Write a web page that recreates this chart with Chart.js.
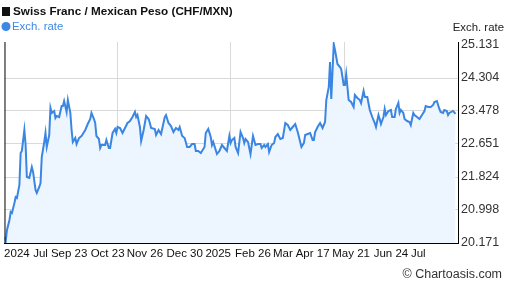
<!DOCTYPE html>
<html>
<head>
<meta charset="utf-8">
<script src="https://cdn.jsdelivr.net/npm/chart.js@4.4.1/dist/chart.umd.min.js"></script>
<style>
  html, body { margin: 0; padding: 0; background: #fff; }
  #wrap { width: 507px; height: 288px; }
</style>
</head>
<body>
<div id="wrap"><canvas id="chart" width="507" height="288"></canvas></div>
<script>
const chartTitle = "Swiss Franc / Mexican Peso (CHF/MXN)";
const seriesName = "Exch. rate";
const credit = "© Chartoasis.com";

// days since start of the window (late Jul 2024)
const days = [
  0, 1, 2, 4, 5, 6, 8, 9, 10, 12,
  13, 14, 16, 17, 18, 20, 22, 23, 25, 26,
  28, 29, 30, 32, 33, 34, 36, 37, 38, 40,
  41, 42, 44, 46, 47, 48, 50, 51, 53, 54,
  55, 57, 58, 60, 62, 65, 67, 69, 70, 72,
  73, 74, 76, 77, 78, 81, 82, 84, 85, 87,
  89, 90, 91, 93, 95, 97, 99, 101, 103, 105,
  106, 107, 109, 110, 112, 114, 116, 117, 118, 121,
  122, 124, 126, 129, 130, 132, 134, 136, 138, 140,
  141, 143, 145, 147, 149, 151, 153, 154, 156, 158,
  161, 162, 164, 166, 167, 168, 171, 173, 175, 177,
  179, 181, 182, 183, 185, 186, 188, 190, 192, 193,
  194, 196, 198, 200, 202, 204, 206, 207, 209, 210,
  212, 213, 215, 217, 218, 220, 222, 224, 226, 228,
  230, 232, 234, 236, 237, 239, 241, 242, 244, 246,
  248, 249, 250, 252, 254, 256, 258, 259, 261, 262,
  263, 265, 266, 268, 270, 271, 273, 274, 275, 277,
  279, 281, 282, 284, 286, 287, 289, 290, 292, 294,
  296, 298, 299, 301, 302, 303, 305, 306, 307, 309,
  311, 312, 314, 315, 317, 318, 319, 321, 322, 324,
  326, 327, 329, 330, 332, 334, 336, 338, 339, 341,
  343, 345, 346, 348, 350, 351, 353, 354, 356, 357,
  358, 361, 363
];

const rates = [
  20.321, 20.221, 20.497, 20.747, 20.948, 20.923, 21.173, 21.323, 21.298, 21.624,
  22.426, 22.476, 23.002, 22.626, 21.824, 21.799, 22.075, 21.950, 21.499, 21.424,
  21.574, 21.674, 22.325, 22.701, 22.927, 22.576, 22.876, 23.553, 23.428, 23.478,
  23.302, 23.352, 23.327, 23.603, 23.603, 23.728, 23.453, 23.753, 23.428, 23.002,
  22.701, 22.801, 22.651, 22.801, 22.851, 23.002, 23.152, 23.277, 23.428, 23.277,
  23.177, 22.851, 22.776, 22.551, 22.626, 22.626, 22.751, 22.551, 22.551, 22.927,
  23.027, 22.927, 23.077, 23.052, 22.927, 23.052, 23.177, 23.227, 23.327, 23.453,
  23.327, 23.377, 23.077, 22.726, 23.002, 23.352, 23.277, 23.177, 23.052, 23.027,
  22.876, 23.002, 22.901, 23.327, 23.377, 23.177, 23.102, 22.952, 23.052, 23.002,
  23.077, 22.851, 22.801, 22.576, 22.576, 22.651, 22.651, 22.476, 22.476, 22.426,
  22.576, 22.927, 23.027, 22.826, 22.626, 22.701, 22.400, 22.476, 22.626, 22.551,
  22.476, 22.851, 22.676, 22.751, 22.801, 22.576, 22.426, 22.952, 22.801, 22.676,
  22.776, 22.701, 22.400, 22.851, 22.626, 22.651, 22.651, 22.551, 22.626, 22.576,
  22.651, 22.451, 22.626, 22.676, 22.826, 22.901, 22.776, 22.801, 23.177, 23.127,
  23.002, 23.077, 23.152, 22.952, 22.826, 22.576, 22.676, 22.876, 22.901, 22.927,
  22.751, 22.751, 22.952, 23.077, 23.177, 23.052, 23.202, 23.753, 24.079, 24.705,
  23.778, 25.156, 25.006, 24.655, 24.580, 24.530, 24.129, 24.129, 24.404, 23.753,
  23.703, 23.578, 23.878, 23.803, 23.753, 23.678, 23.979, 23.828, 23.828, 23.503,
  23.327, 23.177, 23.077, 23.377, 23.277, 23.152, 23.327, 23.528, 23.377, 23.478,
  23.503, 23.327, 23.327, 23.528, 23.678, 23.428, 23.503, 23.428, 23.277, 23.227,
  23.202, 23.127, 23.428, 23.377, 23.327, 23.277, 23.377, 23.478, 23.603, 23.578,
  23.578, 23.628, 23.703, 23.728, 23.528, 23.453, 23.428, 23.503, 23.478, 23.377,
  23.428, 23.478, 23.403
];

const yTicks = [20.171, 20.998, 21.824, 22.651, 23.478, 24.304, 25.131];
const xTickDays = [10, 29, 52, 83, 113, 145, 172, 200, 224, 248, 279, 311, 333];
const xTickLabels = ["2024", "Jul", "Sep 23", "Oct 23", "Nov 26", "Dec 30", "2025",
  "Feb 26", "Mar", "Apr 17", "May 21", "Jun 24", "Jul"];
const quarterDays = [91, 182, 274];

const font = "'Liberation Sans', Arial, sans-serif";

// header, legend, left frame line and credit
const decor = {
  id: "decor",
  afterDraw(chart) {
    const ctx = chart.ctx;
    const area = chart.chartArea;
    ctx.save();
    ctx.strokeStyle = "#000";
    ctx.lineWidth = 1;
    ctx.beginPath();
    ctx.moveTo(area.left + 0.5, area.top);
    ctx.lineTo(area.left + 0.5, area.bottom);
    ctx.stroke();

    ctx.textBaseline = "middle";
    ctx.fillStyle = "#111";
    ctx.fillRect(2, 7, 8, 9);
    ctx.font = "bold 11.7px " + font;
    ctx.textAlign = "left";
    ctx.fillText(chartTitle, 13, 11.5);

    ctx.fillStyle = "#3d88e3";
    ctx.beginPath();
    ctx.arc(6, 26.5, 4.5, 0, Math.PI * 2);
    ctx.fill();
    ctx.font = "11.4px " + font;
    ctx.fillText(seriesName, 12, 26.5);

    ctx.fillStyle = "#222";
    ctx.textAlign = "right";
    ctx.fillText(seriesName, 504, 27.5);
    ctx.fillStyle = "#333";
    ctx.font = "12.5px " + font;
    ctx.fillText(credit, 502, 275);
    ctx.restore();
  }
};

new Chart(document.getElementById("chart"), {
  type: "line",
  data: {
    datasets: [{
      label: seriesName,
      data: days.map((d, i) => ({ x: d, y: rates[i] })),
      borderColor: "#3a86e2",
      backgroundColor: "#edf5fe",
      borderWidth: 2,
      fill: "start",
      pointRadius: 0,
      tension: 0
    }]
  },
  options: {
    responsive: false,
    animation: false,
    devicePixelRatio: 1,
    layout: { padding: { top: 42, left: 2, right: 0, bottom: 0 } },
    plugins: { legend: { display: false }, title: { display: false }, tooltip: { enabled: false } },
    scales: {
      x: {
        type: "linear",
        min: 0,
        max: 365,
        afterBuildTicks: (s) => { s.ticks = xTickDays.map(v => ({ value: v })); },
        afterFit: (s) => { s.height = 45; },
        grid: { display: false, drawTicks: false },
        border: { color: "#000", width: 1 },
        ticks: {
          autoSkip: false,
          maxRotation: 0,
          minRotation: 0,
          padding: 4,
          color: "#111",
          font: { family: font, size: 11.5 },
          callback: (v, i) => xTickLabels[i]
        }
      },
      xq: {
        type: "linear",
        position: "top",
        min: 0,
        max: 365,
        afterBuildTicks: (s) => { s.ticks = quarterDays.map(v => ({ value: v })); },
        afterFit: (s) => { s.height = 0; },
        grid: { color: "#d9d9d9", drawTicks: false },
        border: { display: false },
        ticks: { display: false }
      },
      y: {
        position: "right",
        min: 20.171,
        max: 25.206,
        afterBuildTicks: (s) => { s.ticks = yTicks.map(v => ({ value: v })); },
        afterFit: (s) => { s.width = 49; },
        grid: {
          drawTicks: false,
          color: (c) => (c.index === 0 || c.index === yTicks.length - 1) ? "rgba(0,0,0,0)" : "#d9d9d9"
        },
        border: { color: "#000", width: 1 },
        ticks: {
          padding: 3,
          color: "#333",
          font: { family: font, size: 12.5 },
          callback: (v) => v.toFixed(3)
        }
      }
    }
  },
  plugins: [decor]
});
</script>
</body>
</html>
